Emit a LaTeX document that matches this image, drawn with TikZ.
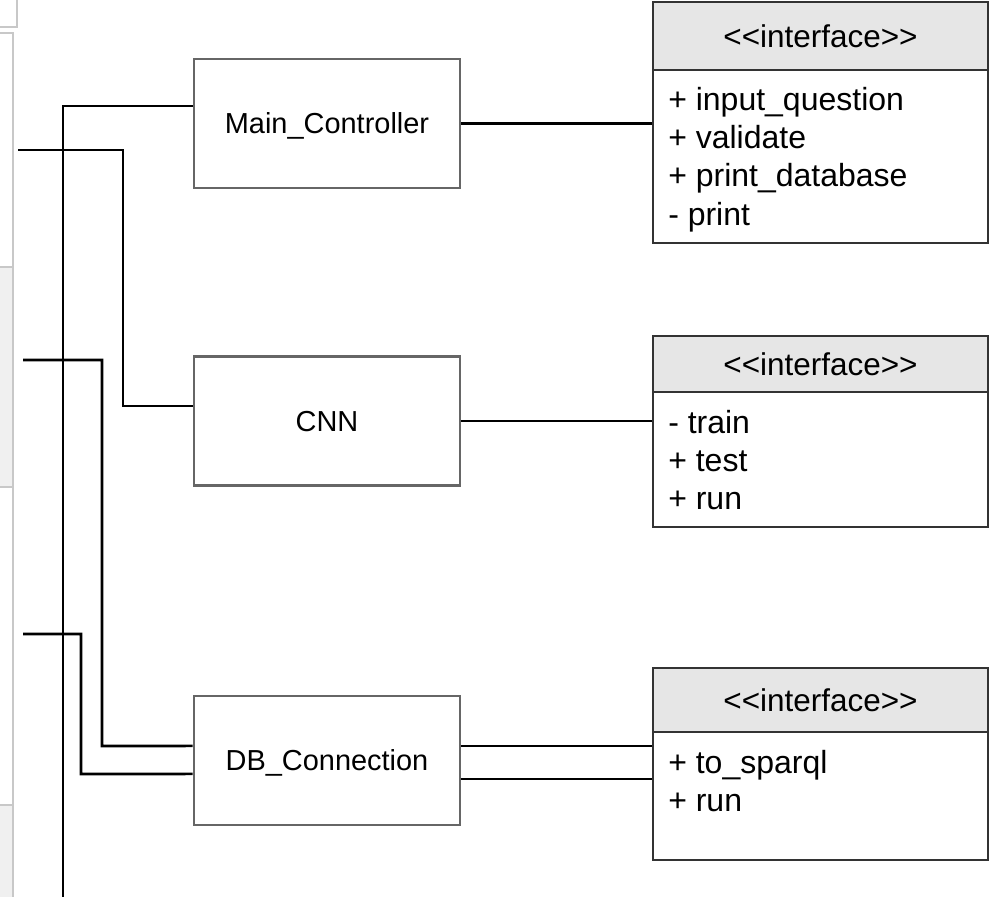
\documentclass[tikz,border=0pt]{standalone}
\usepackage{fontspec}
\setmainfont{Liberation Sans}[Ligatures=TeXOff]
\definecolor{clsgray}{HTML}{666666}
\definecolor{ifborder}{HTML}{333333}
\definecolor{hdrfill}{HTML}{E6E6E6}
\definecolor{uiline}{HTML}{C8C8C8}
\definecolor{uifill}{HTML}{F0F0F0}
\begin{document}
\begin{tikzpicture}[x=0.75pt,y=-0.75pt,
  cls/.style={draw=clsgray, line width=1.9pt, fill=white, minimum width=199.5pt, minimum height=96.75pt, inner sep=0pt, text height=15.5pt, text depth=0pt, font=\fontsize{21.7}{26}\selectfont},
  hdr/.style={draw=ifborder, line width=1.5pt, fill=hdrfill, minimum width=251.25pt, inner sep=0pt, text height=16.9pt, text depth=0pt, font=\fontsize{23.6}{28}\selectfont},
  bdy/.style={draw=ifborder, line width=1.5pt, fill=white, minimum width=251.25pt, inner sep=0pt},
  iftext/.style={anchor=base west, inner sep=0pt, font=\fontsize{24}{28}\selectfont},
  conn/.style={draw=black, line width=1.9pt},
  ui/.style={draw=uiline, line width=1.2pt}]
\useasboundingbox (0,0) rectangle (992,897);

% left UI remnants
\fill[uifill] (0,267) rectangle (13,487);
\fill[uifill] (0,805) rectangle (13,897);
\draw[ui] (0,267) -- (13,267);
\draw[ui] (0,487) -- (13,487);
\draw[ui] (0,805) -- (13,805);
\draw[ui] (0,33) -- (13,33) -- (13,897);
\draw[ui] (0,27) -- (17,27) -- (17,0);

% class boxes
\node[cls] (mc) at (327,123.5) {Main\_Controller};
\node[cls] (cnn) at (327,421) {CNN};
\node[cls] (db) at (327,760.5) {DB\_Connection};

% interface 1
\node[hdr, minimum height=51pt] (h1) at (820.5,36) {<<interface>>};
\node[bdy, minimum height=129.75pt] (i1) at (820.5,156.5) {};
\node[iftext] (t11) at (668,110) {+ input\_question};
\node[iftext] (t12) at (668,148.3) {+ validate};
\node[iftext] (t13) at (668,186.6) {+ print\_database};
\node[iftext] (t14) at (668,225) {- print};

% interface 2
\node[hdr, minimum height=42pt] (h2) at (820.5,364) {<<interface>>};
\node[bdy, minimum height=101.25pt] (i2) at (820.5,459.5) {};
\node[iftext] (t21) at (668,433) {- train};
\node[iftext] (t22) at (668,471.3) {+ test};
\node[iftext] (t23) at (668,509.6) {+ run};

% interface 3
\node[hdr, minimum height=48pt] (h3) at (820.5,700) {<<interface>>};
\node[bdy, minimum height=96pt] (i3) at (820.5,796) {};
\node[iftext] (t31) at (668,773) {+ to\_sparql};
\node[iftext] (t32) at (668,811.3) {+ run};

% left connectors
\coordinate (e1) at (63,897);
\draw[conn] ([yshift=13.1pt]mc.west) -| (e1);

\coordinate (a2) at (18,150);
\coordinate (k2) at (123,406);
\draw[conn] (a2) -| (k2) -- ([yshift=11.25pt]cnn.west);

\coordinate (a3) at (23,360);
\coordinate (k3) at (102,746);
\draw[conn] (a3) -| (k3) -- ([yshift=10.9pt]db.west);

\coordinate (a4) at (23,634);
\coordinate (k4) at (81,774);
\draw[conn] (a4) -| (k4) -- ([yshift=-10.1pt]db.west);

% right connectors
\draw[conn] (mc.east) -- (mc.east -| i1.west);
\draw[conn] (cnn.east) -- (cnn.east -| i2.west);
\draw[conn] ([yshift=10.9pt]db.east) -- ([yshift=10.9pt]db.east -| i3.west);
\draw[conn] ([yshift=-13.9pt]db.east) -- ([yshift=-13.9pt]db.east -| i3.west);
\end{tikzpicture}
\end{document}
